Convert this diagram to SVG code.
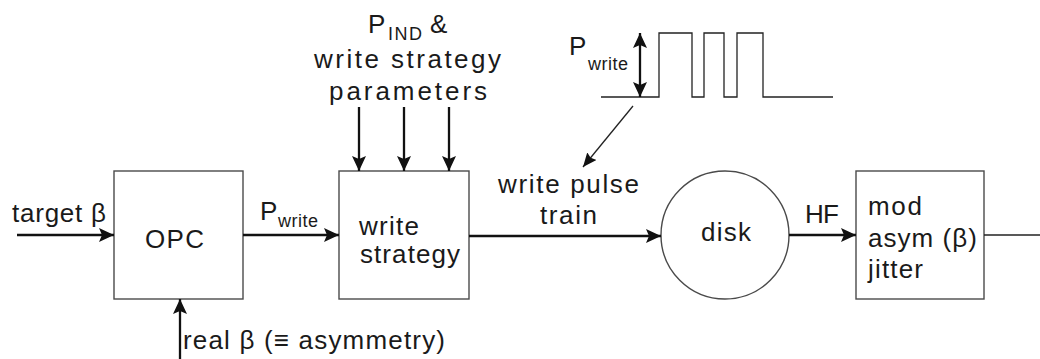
<svg xmlns="http://www.w3.org/2000/svg" width="1040" height="359" viewBox="0 0 1040 359">
<style>
text{font-family:"Liberation Sans",Arial,sans-serif;font-size:26px;fill:#1a1a1a}
.sub{font-size:18px}
.box{fill:#fff;stroke:#4a4a4a;stroke-width:1.4}
.ar{fill:none;stroke:#111;stroke-width:2.3}
.thin{fill:none;stroke:#222;stroke-width:1.3}
</style>
<defs>
<marker id="ah" viewBox="0 0 15 14" refX="15" refY="7" markerWidth="15" markerHeight="14" markerUnits="userSpaceOnUse" orient="auto-start-reverse">
<path d="M0,0 L15,7 L0,14 L3,7 Z" fill="#111"/>
</marker>
<marker id="ahs" viewBox="0 0 14 12" refX="14" refY="6" markerWidth="14" markerHeight="12" markerUnits="userSpaceOnUse" orient="auto">
<path d="M0,0 L14,6 L0,12 L2,6 Z" fill="#111"/>
</marker>
</defs>
<g id="opc">
<rect class="box" x="114" y="171" width="129" height="128"/>
<text x="145" y="248" textLength="59" lengthAdjust="spacing">OPC</text>
</g>
<g id="write-strategy">
<rect class="box" x="339" y="171" width="130" height="128"/>
<text x="359" y="235" textLength="60" lengthAdjust="spacing">write</text>
<text x="360" y="263" textLength="100" lengthAdjust="spacing">strategy</text>
</g>
<g id="disk">
<circle class="box" cx="725" cy="235" r="64"/>
<text x="701" y="241" textLength="50" lengthAdjust="spacing">disk</text>
</g>
<g id="measure">
<rect class="box" x="856" y="171" width="128" height="128"/>
<text x="868" y="215" textLength="54" lengthAdjust="spacing">mod</text>
<text x="868" y="247" textLength="109" lengthAdjust="spacing">asym (β)</text>
<text x="868" y="278" textLength="55" lengthAdjust="spacing">jitter</text>
</g>
<g id="pulse">
<path class="thin" d="M601,97 H659 V33 H692 V97 H704 V33 H724 V97 H737 V33 H763 V97 H833"/>
<text x="569" y="55">P<tspan class="sub" x="588" y="70" textLength="40" lengthAdjust="spacing">write</tspan></text>
</g>
<g id="labels">
<text x="12" y="222" textLength="94" lengthAdjust="spacing">target β</text>
<text x="260" y="220">P<tspan class="sub" x="278" y="227" textLength="40" lengthAdjust="spacing">write</tspan></text>
<text x="368" y="33">P<tspan class="sub" x="388" y="40" textLength="34" lengthAdjust="spacing">IND</tspan><tspan x="430" y="33">&amp;</tspan></text>
<text x="314" y="68" textLength="187" lengthAdjust="spacing">write strategy</text>
<text x="329" y="100" textLength="158" lengthAdjust="spacing">parameters</text>
<text x="498" y="193" textLength="141" lengthAdjust="spacing">write pulse</text>
<text x="540" y="224" textLength="57" lengthAdjust="spacing">train</text>
<text x="805" y="223" textLength="34" lengthAdjust="spacing">HF</text>
<text x="183" y="349" textLength="262" lengthAdjust="spacing">real β (≡ asymmetry)</text>
</g>
<g id="connectors">
<line class="ar" x1="17" y1="235" x2="114" y2="235" marker-end="url(#ah)"/>
<line class="ar" x1="243" y1="235" x2="339" y2="235" marker-end="url(#ah)"/>
<line class="ar" x1="180" y1="359" x2="180" y2="299" marker-end="url(#ah)"/>
<line class="ar" x1="359" y1="107" x2="359" y2="171" marker-end="url(#ah)"/>
<line class="ar" x1="404" y1="107" x2="404" y2="171" marker-end="url(#ah)"/>
<line class="ar" x1="449" y1="107" x2="449" y2="171" marker-end="url(#ah)"/>
<line class="ar" x1="469" y1="236" x2="661" y2="236" marker-end="url(#ah)"/>
<line class="ar" x1="789" y1="235" x2="856" y2="235" marker-end="url(#ah)"/>
<line class="thin" x1="984" y1="235" x2="1040" y2="235"/>
<line class="ar" x1="640" y1="33" x2="640" y2="97" marker-start="url(#ah)" marker-end="url(#ah)"/>
<line class="thin" x1="633" y1="106" x2="583" y2="167" marker-end="url(#ahs)"/>
</g>
</svg>
